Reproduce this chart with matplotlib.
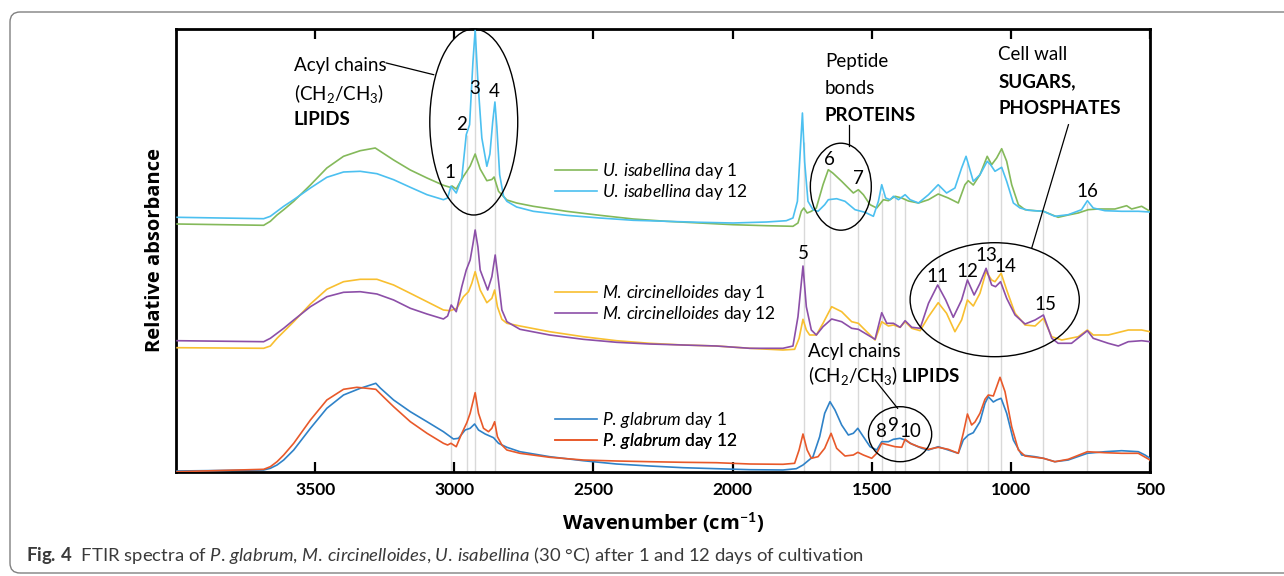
import numpy as np
import matplotlib
matplotlib.use("Agg")
import matplotlib.pyplot as plt
from matplotlib.patches import Ellipse, FancyBboxPatch

plt.rcParams['font.family'] = ['Lato', 'DejaVu Sans']
plt.rcParams['mathtext.fontset'] = 'custom'
plt.rcParams['mathtext.rm'] = 'Lato'
plt.rcParams['mathtext.it'] = 'Lato:italic'
plt.rcParams['mathtext.bf'] = 'Lato:bold'

# ---------------- data (offset stacked, arbitrary units) -------------
ui1_wn = [3996, 3685, 3661, 3637, 3613, 3577, 3517, 3458, 3398, 3338, 3284, 3218,
          3158, 3098, 3039, 3015, 3008, 2993, 2967, 2955, 2943, 2925,
          2907, 2883, 2865, 2857, 2841, 2811, 2776, 2716, 2597, 2477,
          2357, 2238, 2118, 1998, 1878, 1783, 1765, 1753, 1744, 1732,
          1717, 1699, 1675, 1656, 1640, 1608, 1584, 1566, 1548, 1530,
          1506, 1482, 1458, 1440, 1416, 1392, 1368, 1332, 1296, 1261,
          1225, 1189, 1165, 1153, 1135, 1111, 1085, 1069, 1051, 1033,
          1015, 997, 973, 949, 913, 883, 853, 830, 794, 758,
          722, 686, 626, 584, 566, 530, 500]
ui1_abs = [248, 246.7, 250.7, 257, 262.3, 270.7, 287, 304, 315.7, 321.3, 324, 312,
           302, 294, 286.7, 284.7, 286, 283, 295.7, 300.7, 306, 318,
           303, 291.3, 292.5, 295, 280.7, 272, 269, 265.7, 260.7, 256.7,
           253, 250.7, 249, 247.3, 246.3, 245.7, 249, 260.7, 264, 259,
           260.7, 264, 287.3, 302.3, 299, 290.7, 284, 279, 282.3, 277.3,
           267.3, 264, 272.3, 271.3, 275.7, 274, 271, 269, 272.3, 278,
           274, 269, 287.3, 291.3, 287, 297.3, 315.7, 307.3, 314, 323.3,
           310.7, 287.3, 267.3, 262.3, 261.3, 260.7, 257.3, 254.7, 257, 259,
           262.3, 263, 263, 266.3, 263, 265.7, 260.7]

ui12_wn = [3996, 3685, 3661, 3637, 3613, 3577, 3517, 3458, 3398, 3338, 3278, 3218,
           3158, 3098, 3039, 3024, 3012, 2993, 2973, 2957, 2945, 2933,
           2925, 2915, 2901, 2883, 2872, 2862, 2854, 2847, 2837, 2823,
           2811, 2776, 2716, 2597, 2477, 2357, 2238, 2118, 1998, 1878,
           1807, 1783, 1767, 1759, 1749, 1741, 1729, 1711, 1693, 1669,
           1656, 1626, 1596, 1560, 1524, 1494, 1476, 1464, 1450, 1434,
           1422, 1404, 1380, 1362, 1332, 1296, 1261, 1231, 1201, 1177,
           1161, 1135, 1111, 1085, 1073, 1057, 1033, 1015, 991, 967,
           937, 883, 842, 794, 746, 725, 704, 662, 602, 542,
           500]
ui12_abs = [254.7, 253.3, 255.7, 260.7, 265.7, 272.3, 284, 294.7, 300, 300.7, 298.3, 292.3,
            284.7, 277.3, 272.3, 274, 285.7, 279, 294, 337.3, 347.3, 410,
            442, 390, 334, 305.7, 318, 350, 370, 345, 297.3, 275.7,
            270.7, 265, 260.7, 256.7, 254, 251.7, 250.7, 249.7, 249, 250,
            251.3, 254, 270.7, 310, 359, 310, 270.7, 262.3, 260.7, 267.3,
            272.3, 273.3, 270.7, 262.3, 259.7, 255.7, 270.7, 287.3, 274, 272.3,
            275.7, 272.3, 277.3, 272.3, 269, 277.3, 287.3, 279, 284, 304,
            315.7, 290.7, 297.3, 310.7, 307.3, 300.7, 304.7, 290.7, 269, 264,
            261.7, 260.7, 255.7, 257.3, 262.3, 271.3, 264, 261.3, 260.7, 260.7,
            260]

mc1_wn = [3996, 3685, 3661, 3637, 3613, 3577, 3517, 3458, 3398, 3338, 3278, 3218,
          3158, 3098, 3039, 3015, 2991, 2967, 2949, 2937, 2925, 2907,
          2883, 2865, 2855, 2845, 2829, 2811, 2764, 2657, 2537, 2417,
          2298, 2178, 2058, 1938, 1819, 1777, 1761, 1747, 1735, 1723,
          1699, 1675, 1644, 1608, 1572, 1548, 1524, 1488, 1464, 1440,
          1422, 1398, 1380, 1356, 1326, 1296, 1261, 1231, 1201, 1177,
          1156, 1135, 1111, 1089, 1069, 1057, 1035, 1015, 985, 949,
          913, 883, 853, 817, 758, 725, 704, 650, 578, 530,
          500]
mc1_abs = [124.3, 123.7, 126, 133.7, 140.3, 150.3, 168, 182.7, 190.3, 192.7, 192.7, 187,
           178.7, 170.3, 162, 161.3, 163.7, 175.3, 180.3, 188.7, 200.3, 182,
           169.3, 173.7, 182, 165.3, 152.7, 148.7, 146, 140.3, 135.3, 131.3,
           128.7, 127, 126, 123.7, 122, 122.7, 133.7, 152.7, 142, 137,
           137, 148.7, 165.3, 160.3, 150.3, 148.7, 142, 132, 150.3, 146,
           147, 144.7, 150.3, 143.7, 141.3, 155.3, 169.3, 158.7, 140.3, 152,
           172, 166, 178.7, 200.3, 192, 190.3, 198.7, 182, 158.7, 147,
           146, 153.7, 135.3, 132, 135.3, 142, 137, 137, 142, 142,
           140.3]

mc12_wn = [3996, 3685, 3661, 3637, 3613, 3577, 3517, 3458, 3398, 3338, 3278, 3218,
           3158, 3098, 3039, 3024, 3011, 2993, 2973, 2957, 2943, 2933,
           2925, 2915, 2907, 2880, 2865, 2853, 2843, 2829, 2811, 2764,
           2657, 2537, 2417, 2298, 2178, 2058, 1938, 1819, 1783, 1765,
           1747, 1735, 1717, 1699, 1675, 1644, 1608, 1572, 1548, 1524,
           1488, 1464, 1446, 1422, 1398, 1380, 1356, 1326, 1296, 1263,
           1234, 1207, 1177, 1156, 1132, 1111, 1089, 1069, 1055, 1037,
           1015, 985, 949, 913, 883, 853, 830, 782, 725, 704,
           650, 614, 578, 530, 500]
mc12_abs = [131.3, 130.3, 133.7, 138.7, 143.7, 152, 165.3, 175.3, 179.7, 180.3, 178, 172,
            163.7, 158, 153, 156, 167, 160.3, 185.3, 202, 212, 228,
            242, 225, 202, 182, 195.3, 217, 195.3, 162, 150.3, 142.7,
            137, 132.7, 129.7, 128, 127, 126, 123.7, 123.7, 126, 155.3,
            206, 165.3, 142, 137, 145.3, 153, 150.3, 143.7, 142.7, 138.7,
            132.7, 159.3, 148.7, 148.7, 144.7, 151.3, 144.7, 143.7, 168.7, 187,
            172, 154.7, 172, 192, 177, 188.7, 203.7, 187, 185.3, 190.3,
            173.7, 157, 148, 152, 157, 133.7, 128.7, 128.7, 141.3, 133.7,
            128.7, 126, 130.3, 131.3, 130.3]

pg1_wn = [3996, 3685, 3661, 3637, 3613, 3577, 3517, 3458, 3398, 3338, 3282, 3266,
          3218, 3158, 3098, 3039, 3003, 2985, 2961, 2943, 2927, 2913,
          2889, 2859, 2841, 2811, 2764, 2657, 2537, 2417, 2298, 2178,
          2058, 1938, 1819, 1771, 1747, 1711, 1687, 1669, 1650, 1632,
          1608, 1584, 1566, 1550, 1530, 1506, 1482, 1464, 1440, 1422,
          1398, 1380, 1356, 1320, 1296, 1261, 1225, 1189, 1171, 1153,
          1135, 1111, 1093, 1081, 1063, 1051, 1035, 1015, 991, 961,
          913, 883, 842, 794, 725, 662, 602, 542, 518, 500]
pg1_abs = [1, 2, 3.7, 7, 12, 22, 43.7, 63.7, 77, 83.7, 88.7, 84,
           72, 60.3, 50.3, 40.3, 33, 33.7, 42, 43.7, 48, 42,
           38, 34.3, 28.7, 24.7, 20.3, 15.3, 11.3, 8, 6, 4.3,
           3.3, 2.3, 2, 3.3, 7, 15.3, 35.3, 58.7, 70.3, 62,
           47, 37, 38.7, 43.7, 35.3, 25.3, 22, 30.3, 30.3, 32.7,
           33.7, 32, 28, 23.7, 22, 25.3, 22, 18.7, 32, 37,
           39.3, 50.3, 68.7, 75.3, 70, 72, 73.7, 58.7, 32, 17,
           15.3, 13.7, 10.3, 12, 18.7, 20.3, 21.3, 20.3, 17, 13.7]

pg12_wn = [3996, 3685, 3661, 3637, 3613, 3577, 3517, 3458, 3398, 3350, 3314, 3282,
           3254, 3218, 3158, 3098, 3039, 3024, 3012, 2993, 2973, 2955,
           2943, 2925, 2913, 2895, 2877, 2865, 2855, 2845, 2829, 2811,
           2764, 2657, 2537, 2417, 2298, 2178, 2058, 1938, 1819, 1777,
           1761, 1747, 1732, 1717, 1693, 1669, 1646, 1626, 1596, 1566,
           1550, 1530, 1500, 1482, 1464, 1440, 1416, 1392, 1380, 1362,
           1332, 1296, 1261, 1225, 1189, 1171, 1156, 1141, 1129, 1111,
           1093, 1081, 1063, 1051, 1039, 1021, 997, 973, 949, 913,
           883, 842, 794, 725, 662, 602, 542, 500]
pg12_abs = [0.3, 2.7, 5.3, 10.3, 17, 28.7, 52, 72, 82.7, 84.7, 83.7, 82.7,
            75, 65.3, 50.3, 38.7, 28.7, 27, 28.7, 25.3, 38.7, 49.3,
            58.7, 79.3, 58.7, 43.7, 40.3, 43.7, 50.3, 35.3, 27, 22,
            18.7, 14.7, 12, 11, 10.3, 9.7, 9.3, 8, 7.7, 8.7,
            22, 38, 22, 13.7, 15.3, 23.7, 38.7, 23.7, 16, 17,
            19.7, 17, 13.7, 18.7, 28.7, 27, 25.3, 24.7, 32.7, 28.7,
            25.3, 22.7, 24.7, 22.7, 18.7, 38.7, 58, 47, 50, 58.7,
            72.7, 77, 76, 85.3, 94.7, 80.3, 45.3, 22, 16, 14.7,
            13.7, 10.3, 12.7, 20.3, 19.3, 18.7, 18.7, 12]

series_labels = [r"$\it{U.\,isabellina}$ day 1", r"$\it{U.\,isabellina}$ day 12",
                 r"$\it{M.\,circinelloides}$ day 1", r"$\it{M.\,circinelloides}$ day 12",
                 r"$\it{P.\,glabrum}$ day 1", r"$\it{P.\,glabrum}$ day 12"]
series_colors = ["#84b95a", "#4cc0f0", "#f8bf30", "#8c4fa8", "#2f82c8", "#e8592a"]

# band positions (cm-1)
band_wn = [3012, 2956, 2925, 2855, 1745, 1650, 1550, 1462, 1418, 1380,
           1260, 1156, 1082, 1035, 883, 725]

xticks = [3500, 3000, 2500, 2000, 1500, 1000, 500]

# ---------------- figure ---------------------------------------------------------------
fig = plt.figure(figsize=(12.84, 5.76), dpi=100)
ax = fig.add_axes([176/1284, 1 - 472/576, 974/1284, 443/576])
ax.set_xlim(4000, 500)
ax.set_ylim(0, 443)

series = [(ui1_wn, ui1_abs), (ui12_wn, ui12_abs), (mc1_wn, mc1_abs),
          (mc12_wn, mc12_abs), (pg1_wn, pg1_abs), (pg12_wn, pg12_abs)]

# grey band marker lines up to the top spectrum
top_wn = np.array(ui1_wn[::-1], float)
top_env = np.maximum(np.array(ui1_abs[::-1]),
                     np.interp(top_wn, ui12_wn[::-1], ui12_abs[::-1]))
for b in band_wn:
    ax.vlines(b, 0, np.interp(b, top_wn, top_env), color="#d9d9d9", lw=1.0, zorder=1)

lines = []
for (wn, ab), col, lab in zip(series, series_colors, series_labels):
    ln, = ax.plot(wn, ab, color=col, lw=1.2, label=lab, zorder=3,
                  solid_joinstyle='round')
    lines.append(ln)

# legends (one pair beside each group)
leg_y = [0.679, 0.631, 0.403, 0.357, 0.118, 0.070]
for ln, lab, yy in zip(lines, series_labels, leg_y):
    leg = ax.legend([ln], [lab], loc='center left', bbox_to_anchor=(0.389, yy),
                    frameon=False, borderpad=0, borderaxespad=0, handlelength=2.4,
                    handletextpad=0.3, fontsize=12.5)
    ax.add_artist(leg)

# axes styling
for s in ax.spines.values():
    s.set_linewidth(2.0)
ax.set_xticks(xticks)
ax.set_xticklabels([str(t) for t in xticks], fontweight='bold', fontsize=12.5)
ax.set_yticks([])
ax.tick_params(axis='x', which='both', direction='in', length=7, width=1.6,
               top=True, bottom=True, pad=7)

ax.set_ylabel("Relative absorbance", fontsize=14.5, fontweight='bold',
              family=['Open Sans', 'DejaVu Sans'], va='center')
ax.yaxis.set_label_coords(-0.0216, 0.5)
ax.set_xlabel(r"Wavenumber (cm$^{\mathbf{-1}}$)", fontsize=14.5, fontweight='bold',
              family=['Open Sans', 'DejaVu Sans'], va='center')
ax.xaxis.set_label_coords(0.5, -0.115)

# ---------------- annotations ----------------------------------------------------------
fs = 13.5
def txt(x, y, s, **kw):
    kw.setdefault('fontsize', fs)
    kw.setdefault('va', 'baseline')
    ax.text(x, y, s, zorder=5, **kw)

# lipids (upper)
txt(3576, 400.7, "Acyl chains")
txt(3576, 372.3, r"(CH$_2$/CH$_3$)")
txt(3576, 347.3, "LIPIDS", fontweight='bold')
ax.plot([3244, 3074], [409, 397.3], color='black', lw=0.9, zorder=5)
ax.add_patch(Ellipse((2930, 350), 316, 186, fill=False, ec='black', lw=1.0,
                     zorder=5, clip_on=False))

# proteins
txt(1668, 404.7, "Peptide")
txt(1668, 378, "bonds")
txt(1668, 351.3, "PROTEINS", fontweight='bold')
ax.plot([1580, 1580], [347, 326], color='black', lw=0.9, zorder=5)
ax.add_patch(Ellipse((1611, 285.3), 219, 87, fill=False, ec='black', lw=1.0, zorder=5))

# sugars / phosphates
txt(1045, 411.7, "Cell wall")
txt(1045, 385, "SUGARS,", fontweight='bold')
txt(1045, 358.3, "PHOSPHATES", fontweight='bold')
ax.plot([793, 925], [347.3, 224], color='black', lw=0.9, zorder=5)
ax.add_patch(Ellipse((1058, 172.3), 608, 114, fill=False, ec='black', lw=1.0, zorder=5))

# lipids (lower)
txt(1729, 114.7, "Acyl chains")
txt(1729, 90.3, r"(CH$_2$/CH$_3$) $\mathbf{LIPIDS}$")
ax.plot([1488, 1407], [92, 63.7], color='black', lw=0.9, zorder=5)
ax.add_patch(Ellipse((1398, 37.8), 227, 55, fill=False, ec='black', lw=1.0, zorder=5))

# band numbers
num_pos = [(3017, 294, "1"), (2973, 341.7, "2"), (2927, 377.7, "3"), (2855, 374.7, "4"),
           (1747, 213, "5"), (1653, 306.7, "6"), (1548, 288, "7"),
           (1467, 34.7, "8"), (1422, 41.3, "9"), (1362, 34.7, "10"),
           (1263, 189.7, "11"), (1156, 194.7, "12"), (1089, 211.3, "13"),
           (1021, 199.7, "14"), (877, 162, "15"), (725, 274.7, "16")]
for x, y, s in num_pos:
    txt(x, y, s, ha='center')

# ---------------- frame & caption ------------------------------------------------------
fig.add_artist(FancyBboxPatch((0.10, 0.03), 13.5, 5.61,
                              boxstyle="round,pad=0,rounding_size=0.1",
                              transform=fig.dpi_scale_trans, fill=False,
                              ec='#808080', lw=1.0))
fig.text(26/1284, 1 - 556/576,
         r"$\mathbf{Fig.\,4}$  FTIR spectra of $\it{P.\,glabrum}$, "
         r"$\it{M.\,circinelloides}$, $\it{U.\,isabellina}$ "
         r"(30 °C) after 1 and 12 days of cultivation",
         fontsize=13.3, color='#3a3a3a', va='center', ha='left')

fig.savefig("out.png", dpi=100)
